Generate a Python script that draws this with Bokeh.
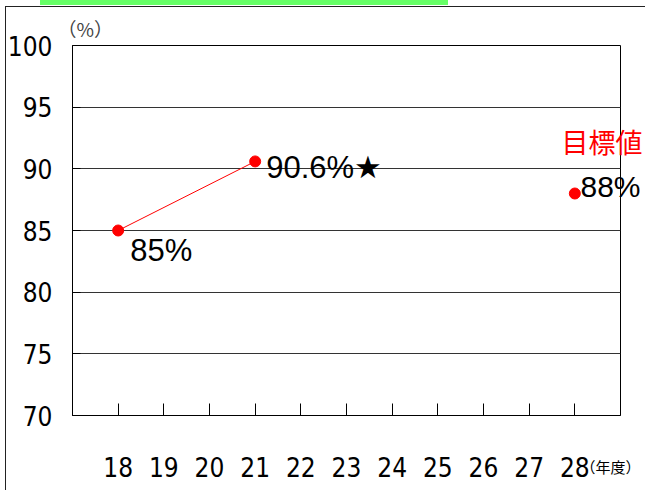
from bokeh.plotting import figure
from bokeh.models import (Range1d, FixedTicker, LabelSet, ColumnDataSource,
                          LinearAxis, InlineStyleSheet)
from bokeh.core.properties import value
from bokeh.embed import file_html
from bokeh.resources import INLINE

# ---- data ----
years = [18, 19, 20, 21, 22, 23, 24, 25, 26, 27, 28]
actual_years = [18, 21]
actual_values = [85.0, 90.6]
actual_labels = ["85%", "90.6%★"]
target_year = [28]
target_value = [88.0]
target_label = "88%"
target_title = "目標値"
y_ticks = [70, 75, 80, 85, 90, 95, 100]
y_unit = "（%）"
x_unit = "（年度）"

NARROW = "DejaVu Sans Condensed"
CJK = "Noto Sans CJK JP"
Y0, Y1 = 70, 100

p = figure(width=645, height=490, output_backend="svg", toolbar_location=None,
           x_range=Range1d(17, 29), y_range=Range1d(Y0, Y1),
           min_border_left=72, min_border_right=25, min_border_top=45,
           min_border_bottom=75)
p.background_fill_color = "white"
p.border_fill_color = "white"
p.outline_line_color = "black"
p.outline_line_width = 1

# title used as the y unit label
p.title.text = y_unit
p.title.align = "left"
p.title.offset = -15
p.title.text_font = CJK
p.title.text_font_size = "19px"
p.title.text_font_style = "normal"
p.title.standoff = 7

# axes
p.xaxis.ticker = FixedTicker(ticks=years)
p.yaxis.ticker = FixedTicker(ticks=y_ticks)
for ax in (p.xaxis[0], p.yaxis[0]):
    ax.axis_line_color = "black"
    ax.major_tick_line_color = "black"
    ax.minor_tick_line_color = None
    ax.major_label_text_font = NARROW
    ax.major_label_text_font_size = "26px"
    ax.major_label_text_color = "black"
    ax.major_tick_out = 0
p.xaxis.major_tick_in = 12
p.yaxis.major_tick_in = 8
p.xaxis.major_label_standoff = 41
p.yaxis.major_label_standoff = 20

p.xgrid.grid_line_color = None
p.ygrid.grid_line_color = "#333333"
p.ygrid.grid_line_width = 1

# x unit label, as a second bottom axis (tick placed at the right end of the frame)
p.extra_x_ranges = {"unit": Range1d(16, 28)}
ax_u = LinearAxis(x_range_name="unit", ticker=FixedTicker(ticks=[target_year[0]]),
                  major_label_overrides={target_year[0]: x_unit},
                  axis_line_color=None, major_tick_line_color=None,
                  major_tick_in=0, major_tick_out=0,
                  minor_tick_line_color=None, major_label_standoff=-24,
                  major_label_text_font=CJK,
                  major_label_text_font_size="15px", major_label_text_color="black")
p.add_layout(ax_u, "below")

# target labels drawn as right-side axes (they run past the plot frame)
p.extra_y_ranges = {"t1": Range1d(Y0 - 0.57, Y1 - 0.57),
                    "t2": Range1d(Y0 - 4.2, Y1 - 4.2)}
ax_t1 = LinearAxis(y_range_name="t1", ticker=FixedTicker(ticks=target_value),
                   major_label_overrides={int(target_value[0]): target_label},
                   axis_line_color=None, major_tick_line_color=None,
                   major_tick_in=0, major_tick_out=0,
                   minor_tick_line_color=None, major_label_standoff=-40,
                   major_label_text_font="Liberation Sans",
                   major_label_text_font_size="30px", major_label_text_color="black")
ax_t2 = LinearAxis(y_range_name="t2", ticker=FixedTicker(ticks=target_value),
                   major_label_overrides={int(target_value[0]): target_title},
                   axis_line_color=None, major_tick_line_color=None,
                   major_tick_in=0, major_tick_out=0,
                   minor_tick_line_color=None, major_label_standoff=-82,
                   major_label_text_font=CJK,
                   major_label_text_font_size="27px", major_label_text_color="red")
p.add_layout(ax_t1, "right")
p.add_layout(ax_t2, "right")

# actual series
p.line(actual_years, actual_values, line_color="red", line_width=1)
p.scatter(actual_years, actual_values, size=11, color="red")
p.scatter(target_year, target_value, size=11, color="red")

src_a = ColumnDataSource(dict(x=actual_years, y=actual_values, t=actual_labels,
                              xo=[12, 11], yo=[-20, -6]))
p.add_layout(LabelSet(x="x", y="y", text="t", source=src_a, x_offset="xo", y_offset="yo",
                      text_font=value("Liberation Sans"), text_font_size="31px",
                      text_baseline="middle", text_align="left", text_color="black"))

# outer frame line and the green title strip of the source page
css = """
:host { position: relative; }
:host::before { content: ""; position: absolute; left: 40px; top: 0px; width: 408px;
  height: 5px; background: #66ff66; z-index: 10; pointer-events: none; }
:host::after { content: ""; position: absolute; left: 5px; top: 6px;
  width: calc(100% - 5px); height: calc(100% - 6px); box-sizing: border-box;
  border-left: 1.5px solid #222; border-top: 1.5px solid #222;
  z-index: 10; pointer-events: none; }
"""
p.stylesheets = [InlineStyleSheet(css=css)]

open("out.html", "w").write(file_html(p, INLINE))
